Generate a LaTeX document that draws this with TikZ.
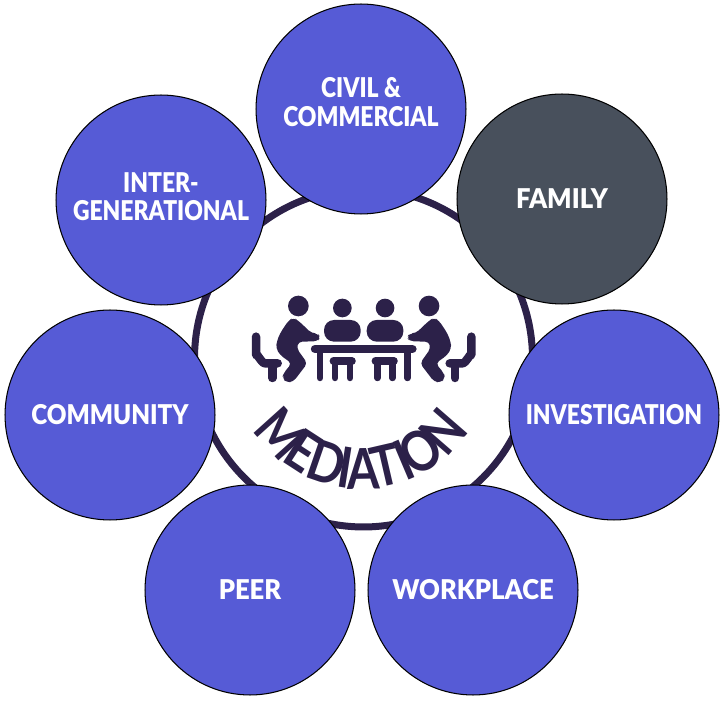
\documentclass[tikz,border=0pt]{standalone}
\usepackage{fontspec}
\setmainfont{Lato}[BoldFont={Lato Black}, FakeStretch=0.94]
\newfontfamily\narrowfont{Lato}[BoldFont={Lato Black}, FakeStretch=0.84]
\newfontfamily\tightfont{Lato}[BoldFont={Lato Black}, FakeStretch=0.89]
\newfontfamily\wordfont{Lato}[FakeStretch=0.84]
\usepackage{tikz}

\definecolor{petal}{HTML}{565BD6}
\definecolor{slate}{HTML}{48505C}
\definecolor{hubdark}{HTML}{2C2149}

\tikzset{
  petal/.style={circle, draw=black, line width=0.6pt, fill=petal, text=white,
    minimum size=4.2cm, inner sep=0pt, align=center,
    font=\fontsize{15.5}{16}\selectfont\bfseries},
  narrowpetal/.style={petal, font=\narrowfont\fontsize{15.5}{16}\selectfont\bfseries},
  tightpetal/.style={petal, font=\tightfont\fontsize{15.5}{16}\selectfont\bfseries},
  medletter/.style={inner sep=0pt, text=hubdark, anchor=base,
    font=\wordfont\fontsize{32}{32}\selectfont\bfseries},
  hubline/.style={draw=hubdark, line width=0.17cm, line cap=round, line join=round},
}

\begin{document}
\begin{tikzpicture}[x=0.02cm, y=-0.02cm]
\useasboundingbox (0,0) rectangle (724,702);

% hub ring
\node[circle, draw=hubdark, line width=0.14cm, minimum size=6.76cm, inner sep=0pt] (hub) at (363.5,358) {};

% outer circles
\node[narrowpetal, text depth=8pt] (civil) at (361,109) {CIVIL \&\\COMMERCIAL};
\node[petal, fill=slate] (family) at (562,199) {FAMILY};
\node[narrowpetal] (investigation) at (614,415) {INVESTIGATION};
\node[petal] (workplace) at (473,590) {WORKPLACE};
\node[petal] (peer) at (250,590) {PEER};
\node[tightpetal] (community) at (110,415) {COMMUNITY};
\node[narrowpetal, text depth=4pt] (inter) at (161,200) {INTER-\\GENERATIONAL};

% people round the table
\begin{scope}[shift={(363.7,280)}, x=0.00667cm, y=-0.00667cm]
\draw[hubline, line width=0.17cm] (-146,207) -- (146,207);
\foreach \flip in {1,-1} {
\begin{scope}[xscale=\flip]
  \fill[hubdark] (-196,78) circle (31);
  \fill[hubdark] (-64,84) circle (28);
  \fill[hubdark, rounded corners=0.2cm] (-119,185) -- (-119,120) -- (-9,120) -- (-9,185) -- cycle;
  \fill[hubdark, rounded corners=0.08cm] (-226,122) -- (-211,113) -- (-196,122) -- (-156,160)
    -- (-139,160) -- (-129,172) -- (-139,184) -- (-196,185) -- (-201,205) -- (-169,250)
    -- (-211,305) -- (-231,308) -- (-244,295) -- (-241,280) -- (-216,250) -- (-251,225)
    -- (-263,205) -- (-261,185) -- (-251,160) -- cycle;
  \draw[hubline, line width=0.13cm] (-131,207) -- (-131,294);
  \draw[hubline, line width=0.15cm] (-91,243) -- (-35,243);
  \draw[hubline, line width=0.13cm] (-86,243) -- (-86,294);
  \draw[hubline, line width=0.13cm] (-41,243) -- (-41,294);
  \draw[hubline, line width=0.17cm] (-323,170) -- (-323,225) to[out=90,in=180,looseness=0.8] (-296,250) -- (-258,250);
  \draw[hubline, line width=0.17cm] (-274,250) -- (-274,294);
\end{scope}
}
\end{scope}

% lettering on the arc
\begin{scope}[shift={(362,361)}]
\foreach \ltr/\ang [count=\i] in {M/-48,E/-33,D/-19,I/-9,A/1,T/13,I/23,O/33,N/49} {
  \node[medletter, rotate=\ang] (med\i) at ({90-\ang}:128) {\ltr};
}
\end{scope}

\end{tikzpicture}
\end{document}
